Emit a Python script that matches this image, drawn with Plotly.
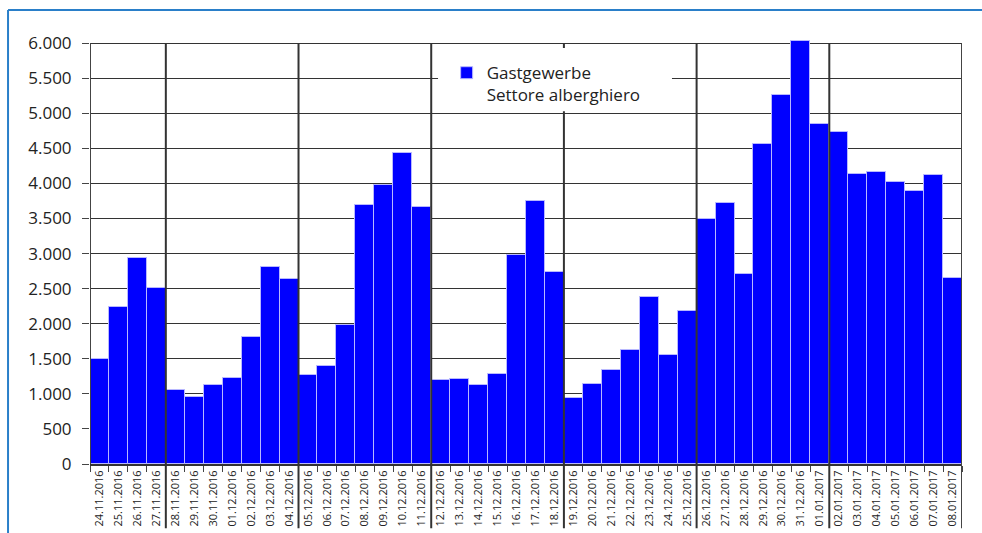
import plotly.graph_objects as go

dates = ["24.11.2016", "25.11.2016", "26.11.2016", "27.11.2016", "28.11.2016", "29.11.2016",
         "30.11.2016", "01.12.2016", "02.12.2016", "03.12.2016", "04.12.2016", "05.12.2016",
         "06.12.2016", "07.12.2016", "08.12.2016", "09.12.2016", "10.12.2016", "11.12.2016",
         "12.12.2016", "13.12.2016", "14.12.2016", "15.12.2016", "16.12.2016", "17.12.2016",
         "18.12.2016", "19.12.2016", "20.12.2016", "21.12.2016", "22.12.2016", "23.12.2016",
         "24.12.2016", "25.12.2016", "26.12.2016", "27.12.2016", "28.12.2016", "29.12.2016",
         "30.12.2016", "31.12.2016", "01.01.2017", "02.01.2017", "03.01.2017", "04.01.2017",
         "05.01.2017", "06.01.2017", "07.01.2017", "08.01.2017"]

values = [1500, 2235, 2937, 2505, 1055, 955, 1120, 1220, 1805, 2815, 2632, 1273,
          1397, 1976, 3696, 3981, 4437, 3658, 1202, 1216, 1126, 1278, 2979, 3744,
          2732, 936, 1140, 1340, 1625, 2385, 1553, 2185, 3492, 3720, 2703, 4556,
          5268, 6030, 4846, 4727, 4133, 4157, 4024, 3886, 4128, 2656]

week_starts = ["28.11.2016", "05.12.2016", "12.12.2016", "19.12.2016", "26.12.2016", "02.01.2017"]
series_name = "Gastgewerbe<br>Settore alberghiero"
y_ticks = [0, 500, 1000, 1500, 2000, 2500, 3000, 3500, 4000, 4500, 5000, 5500, 6000]

FONT = "Open Sans"
YMAX = 6000
YTOP = 6060

fig = go.Figure()
fig.add_trace(go.Bar(
    x=dates, y=values, name=series_name,
    marker=dict(color="#0000FF", line=dict(color="#b8b8ff", width=1)),
    showlegend=True,
))

shapes = []
y_top_paper = YMAX / YTOP
for d in week_starts:
    i = dates.index(d) - 0.5
    shapes.append(dict(type="line", xref="x", yref="paper", x0=i, x1=i,
                       y0=-0.151, y1=y_top_paper, layer="above",
                       line=dict(color="#333333", width=2)))
shapes.append(dict(type="line", xref="x", yref="paper", x0=len(dates) - 0.5, x1=len(dates) - 0.5,
                   y0=-0.151, y1=y_top_paper, layer="above",
                   line=dict(color="#444444", width=2)))
shapes.append(dict(type="line", xref="x", yref="paper", x0=-0.5, x1=-0.5,
                   y0=0, y1=y_top_paper, layer="above",
                   line=dict(color="#444444", width=2)))
shapes.append(dict(type="rect", xref="x", yref="y", x0=17.86, x1=30.2, y0=5030, y1=5930,
                   layer="above", line=dict(width=0), fillcolor="white"))
shapes.append(dict(type="line", xref="paper", yref="paper", x0=-0.094, x1=-0.094,
                   y0=-0.2, y1=1.068, line=dict(color="#2a7fc9", width=2)))
shapes.append(dict(type="line", xref="paper", yref="paper", x0=-0.094, x1=1.05,
                   y0=1.068, y1=1.068, line=dict(color="#2a7fc9", width=2)))

fig.update_layout(
    width=982, height=533,
    margin=dict(l=90, r=20, t=39, b=69),
    paper_bgcolor="white", plot_bgcolor="white",
    separators=",.",
    bargap=0,
    font=dict(family=FONT, color="#222222"),
    shapes=shapes,
    legend=dict(x=0.409, y=0.962, xanchor="left", yanchor="top",
                bgcolor="rgba(0,0,0,0)", valign="top",
                font=dict(size=17, family=FONT, color="#222222")),
    xaxis=dict(
        type="category", range=[-0.5, len(dates) - 0.5], automargin=False,
        tickangle=-90, tickfont=dict(size=11, family=FONT, color="#222222"),
        ticks="outside", tickson="boundaries", ticklen=6, tickcolor="#444444",
        showgrid=False, showline=True, linecolor="#333333", linewidth=2,
        zeroline=False,
    ),
    yaxis=dict(
        range=[0, YTOP], tickvals=y_ticks, tickformat=",d", automargin=False,
        tickfont=dict(size=17, family=FONT, color="#222222"),
        ticks="outside", ticklen=7, tickcolor="#444444", ticklabelstandoff=7,
        showgrid=True, gridcolor="#333333", gridwidth=1,
        showline=False, zeroline=False,
    ),
)

fig.write_html(
    "out.html",
    config={"displayModeBar": False},
    post_script="document.body.style.margin='0';document.body.style.overflow='hidden';",
)
